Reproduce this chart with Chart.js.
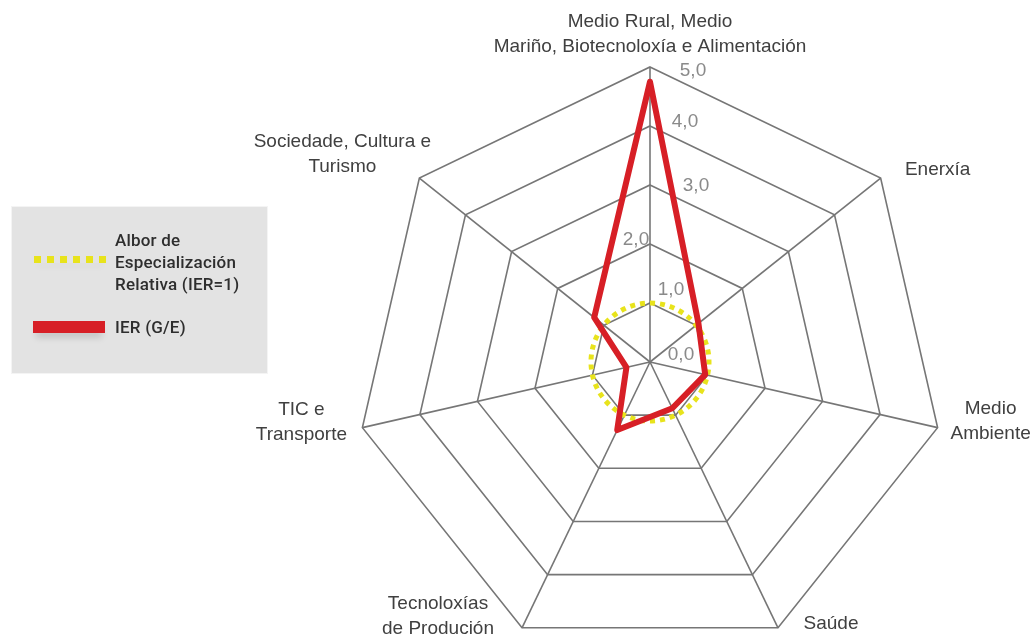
<!DOCTYPE html>
<html>
<head>
<meta charset="utf-8">
<script src="https://cdn.jsdelivr.net/npm/chart.js@4/dist/chart.umd.min.js"></script>
<style>
  html, body { margin: 0; padding: 0; background: #ffffff; overflow: hidden; }
  #wrap { position: relative; width: 1035px; height: 636px; overflow: hidden; }
  #c { position: absolute; left: 0; top: 0; }
  #legend {
    position: absolute; left: 12px; top: 207px; width: 255px; height: 166px;
    background: #e3e3e3; box-shadow: 0 0 0 1px #f4f4f4;
    font-family: Roboto, "Liberation Sans", sans-serif; font-weight: 500;
    font-size: 17px; color: #2e2e2e; letter-spacing: 0.2px;
  }
  .txt { position: absolute; left: 103px; line-height: 22px; white-space: nowrap; }
  .sw { position: absolute; left: 22px; }
</style>
</head>
<body>
<div id="wrap">
  <canvas id="c" width="1035" height="700"></canvas>
  <div id="legend"></div>
</div>
<script>
// ---- data ----
const categories = [
  ['Medio Rural, Medio', 'Mariño, Biotecnoloxía e Alimentación'],
  ['Enerxía'],
  ['Medio', 'Ambiente'],
  ['Saúde'],
  ['Tecnoloxías', 'de Produción'],
  ['TIC e', 'Transporte'],
  ['Sociedade, Cultura e', 'Turismo']
];
const ierLabel = 'IER (G/E)';
const ierValues = [4.75, 1.05, 0.96, 0.87, 1.28, 0.41, 1.21];
const thresholdLabel = ['Albor de', 'Especialización', 'Relativa (IER=1)'];
const thresholdValues = [1, 1, 1, 1, 1, 1, 1];
const tickValues = [0, 1, 2, 3, 4, 5];
const tickLabels = ['0,0', '1,0', '2,0', '3,0', '4,0', '5,0'];

// ---- styling ----
const RED = '#d71f26';
const YELLOW = '#e8e31c';
const GRID = '#767676';
// offsets (px) of tick labels from their ring point on the first axis
const tickLabelOffsets = [[31, -7], [21, -13], [-14, -4], [46, 1], [35, -4], [43, 4]];
// offsets (px) of category label block centres from the outer ring vertex
const catLabelOffsets = [[0, -33], [57, -8], [53, -6], [53, -4], [-84, -12], [-61, -5], [-77, -24]];

const labelPlugin = {
  id: 'customLabels',
  beforeDatasetsDraw(chart) {
    const s = chart.scales.r;
    const ctx = chart.ctx;
    ctx.save();
    ctx.font = '19px "Liberation Sans", Arial, sans-serif';
    ctx.fillStyle = '#8a8a8a';
    ctx.textAlign = 'center';
    ctx.textBaseline = 'middle';
    tickValues.forEach((v, i) => {
      const p = s.getPointPosition(0, s.getDistanceFromCenterForValue(v));
      ctx.fillText(tickLabels[i], p.x + tickLabelOffsets[i][0], p.y + tickLabelOffsets[i][1]);
    });
    ctx.restore();
  },
  afterDraw(chart) {
    const s = chart.scales.r;
    const ctx = chart.ctx;
    ctx.save();
    ctx.font = '19px "Liberation Sans", Arial, sans-serif';
    ctx.fillStyle = '#404040';
    ctx.textAlign = 'center';
    ctx.textBaseline = 'middle';
    const lh = 25;
    categories.forEach((lines, i) => {
      const p = s.getPointPosition(i, s.drawingArea);
      const cx = p.x + catLabelOffsets[i][0];
      const cy = p.y + catLabelOffsets[i][1];
      const y0 = cy - (lines.length - 1) * lh / 2;
      lines.forEach((t, k) => ctx.fillText(t, cx, y0 + k * lh));
    });
    ctx.restore();
  }
};

const chart = new Chart(document.getElementById('c'), {
  type: 'radar',
  data: {
    labels: categories.map(l => l.join(' ')),
    datasets: [
      {
        label: ierLabel,
        data: ierValues,
        borderColor: RED,
        borderWidth: 6,
        borderJoinStyle: 'round',
        fill: false,
        pointRadius: 0,
        tension: 0,
        order: 0
      },
      {
        label: thresholdLabel.join(' '),
        data: thresholdValues,
        borderColor: YELLOW,
        borderWidth: 5,
        borderDash: [5, 5],
        borderCapStyle: 'butt',
        fill: false,
        pointRadius: 0,
        tension: 0.39,
        order: 1
      }
    ]
  },
  options: {
    responsive: false,
    animation: false,
    layout: { padding: { left: 355, right: 90, top: 67, bottom: 43 } },
    plugins: { legend: { display: false }, tooltip: { enabled: false } },
    scales: {
      r: {
        min: 0, max: 5,
        startAngle: 0,
        ticks: { display: false, stepSize: 1 },
        grid: { color: GRID, lineWidth: 1.6 },
        angleLines: { color: GRID, lineWidth: 1.6 },
        pointLabels: { display: false }
      }
    }
  },
  plugins: [labelPlugin]
});

// ---- HTML legend built from the series ----
(function () {
  const lg = document.getElementById('legend');
  const a = document.createElement('div');
  a.className = 'txt';
  a.style.top = '22px';
  a.innerHTML = thresholdLabel.join('<br>');
  lg.appendChild(a);
  const sw1 = document.createElement('div');
  sw1.className = 'sw';
  sw1.style.cssText += 'top:49px;width:72px;height:7px;background:repeating-linear-gradient(to right,' + YELLOW + ' 0 7px, transparent 7px 13px);box-shadow:0 6px 6px -3px rgba(0,0,0,0.12);';
  lg.appendChild(sw1);
  const b = document.createElement('div');
  b.className = 'txt';
  b.style.top = '109px';
  b.textContent = ierLabel;
  lg.appendChild(b);
  const sw2 = document.createElement('div');
  sw2.className = 'sw';
  sw2.style.cssText += 'left:21px;top:114px;width:72px;height:12px;background:' + RED + ';box-shadow:0 7px 7px -3px rgba(0,0,0,0.18);';
  lg.appendChild(sw2);
})();
</script>
</body>
</html>
